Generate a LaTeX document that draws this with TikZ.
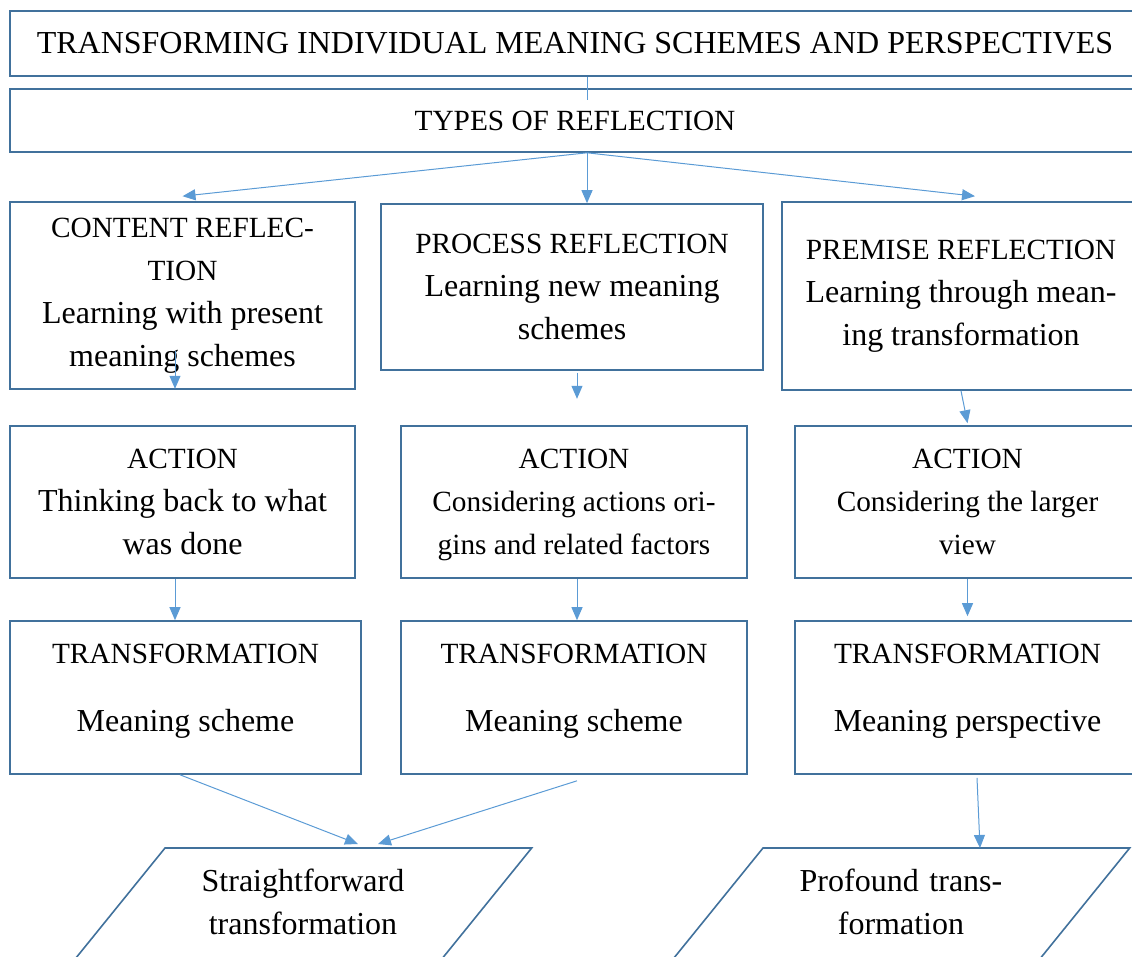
\documentclass[tikz,border=0pt]{standalone}
\usepackage{fontspec}
\setmainfont{Liberation Serif}
\usetikzlibrary{positioning,calc,arrows.meta,shapes.geometric}
\definecolor{edgeblue}{HTML}{41719C}
\definecolor{arrowblue}{HTML}{5B9BD5}
\newcommand{\boxsmall}{\fontsize{29.3}{43}\selectfont}
\newcommand{\boxhead}[1]{{\boxsmall #1}}

\begin{document}
\begin{tikzpicture}[
x=1pt, y=-1pt,
box/.style={draw=edgeblue, line width=1.6pt, align=center, inner sep=0pt,
	font=\fontsize{32}{43}\selectfont},
slanted/.style={box, trapezium, trapezium left angle=51, trapezium right angle=129,
	text width=276pt, text height=43pt, text depth=69pt},
link/.style={draw=arrowblue, line width=1pt, -{Triangle[length=13pt,width=11pt]}},
]
\useasboundingbox (0,0) rectangle (1132,957);
\clip (0,0) rectangle (1132,957);

% the two top rows run off the right edge of the page
\node[box, minimum width=1130pt, minimum height=65pt] (title) at (575,43.5)
	{TRANSFORMING INDIVIDUAL MEANING SCHEMES AND PERSPECTIVES};
\node[box, minimum width=1130pt, minimum height=63pt] (types) at (575,120.5)
	{\boxhead{TYPES OF REFLECTION}};

% reflection row
\node[box, minimum width=345pt, minimum height=187pt] (content) at (182.5,295.5)
	{\boxhead{CONTENT REFLEC-}\\\boxhead{TION}\\Learning with present\\meaning schemes};
\node[box, minimum width=382pt, minimum height=166pt] (process) at (572,287)
	{\boxhead{PROCESS REFLECTION}\\Learning new meaning\\schemes};
\node[box, minimum width=358pt, minimum height=188pt] (premise) at (961,296)
	{\boxhead{PREMISE REFLECTION}\\Learning through mean-\\ing transformation};

% action row
\node[box, minimum width=345pt, minimum height=152pt] (actcontent) at (182.5,502)
	{\boxhead{ACTION}\\Thinking back to what\\was done};
\node[box, minimum width=346pt, minimum height=152pt, font=\boxsmall, text depth=0pt] (actprocess) at (574,502)
	{ACTION\\Considering actions ori-\\gins and related factors};
\node[box, minimum width=345pt, minimum height=152pt, font=\boxsmall] (actpremise) at (967.5,502)
	{ACTION\\Considering the larger\\view};

% transformation row
\node[box, minimum width=351pt, minimum height=153pt, text depth=19pt] (trcontent) at (185.5,697.5)
	{\boxhead{TRANSFORMATION}\\[25pt]Meaning scheme};
\node[box, minimum width=346pt, minimum height=153pt, text depth=19pt] (trprocess) at (574,697.5)
	{\boxhead{TRANSFORMATION}\\[25pt]Meaning scheme};
\node[box, minimum width=345pt, minimum height=153pt, text depth=19pt] (trpremise) at (967.5,697.5)
	{\boxhead{TRANSFORMATION}\\[25pt]Meaning perspective};

% outcomes, cut by the bottom edge
\node[slanted] (straight) at (303,904) {Straightforward\\transformation};
\node[slanted] (profound) at (901,904) {Profound trans-\\formation};

% connectors
\coordinate (tick) at (587,100);
\draw[draw=arrowblue, line width=1pt] ([xshift=12pt]title.south) -- (tick);
\draw[link] ([xshift=12pt]types.south) -- ([yshift=5pt]content.north);
\draw[link] ([xshift=12pt]types.south) -- ([xshift=15pt]process.north);
\draw[link] ([xshift=12pt]types.south) -- ([xshift=14pt,yshift=5pt]premise.north);

\draw[link] ([xshift=-7.5pt,yshift=39pt]content.south) -- ([xshift=-7.5pt,yshift=1pt]content.south);
\draw[link] ([xshift=5pt,yshift=-2pt]process.south) -- ([xshift=5pt,yshift=-28pt]process.south);
\draw[link] (premise.south) -- ([yshift=2pt]actpremise.north);

\draw[link] ([xshift=-7.5pt]actcontent.south) -- ([xshift=-10.5pt]trcontent.north);
\draw[link] ([xshift=3pt]actprocess.south) -- ([xshift=3pt]trprocess.north);
\draw[link] (actpremise.south) -- ([yshift=4pt]trpremise.north);

\draw[link] ([xshift=-5.5pt]trcontent.south) -- ($(straight.center)+(55,-60)$);
\draw[link] ([xshift=3pt,yshift=-6pt]trprocess.south) -- ($(straight.center)+(75,-60)$);
\draw[link] ([xshift=9.5pt,yshift=-3pt]trpremise.south) -- ($(profound.center)+(79,-56)$);
\end{tikzpicture}
\end{document}
